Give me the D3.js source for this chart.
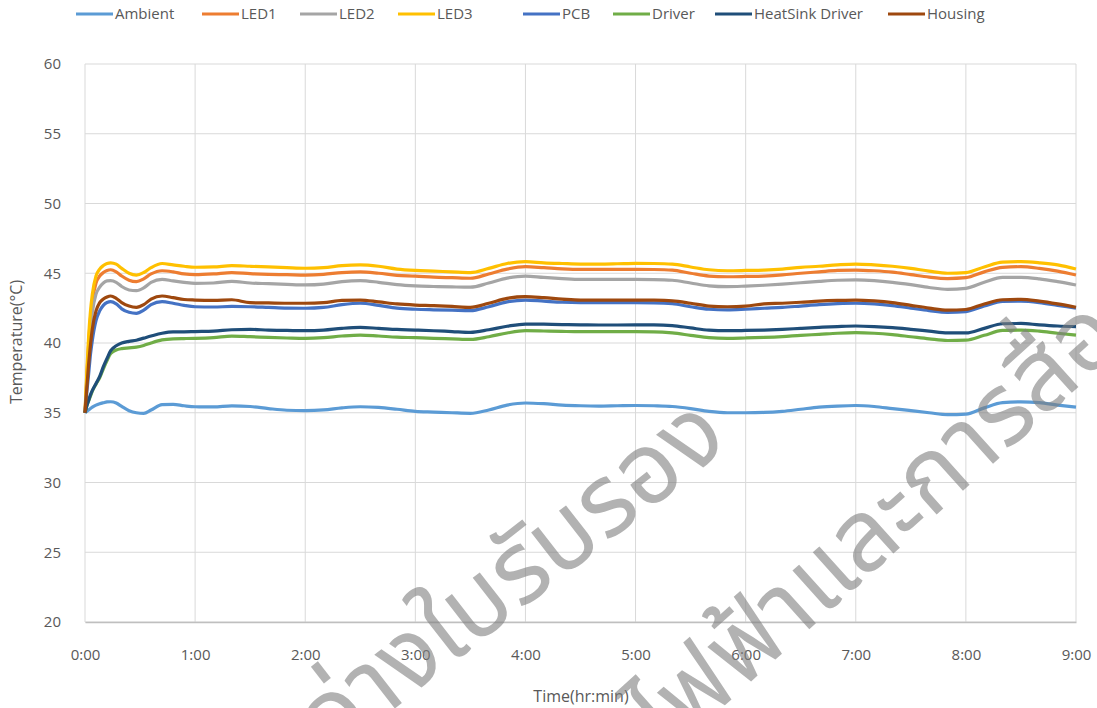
<!DOCTYPE html>
<html>
<head>
<meta charset="utf-8">
<script src="https://cdn.jsdelivr.net/npm/d3@7"></script>
<style>
  body { margin: 0; background: #fff; }
  text { font-family: "Open Sans", "Noto Sans", sans-serif; fill: #595959; }
  .grid line { stroke: #d9d9d9; stroke-width: 1; }
  .tick text { font-size: 15px; }
  .watermark { font-family: "Noto Sans Thai", "Loma", "Garuda", "Noto Sans", sans-serif; fill: #7f7f7f; opacity: 0.6; font-size: 100px; }
</style>
</head>
<body>
<div id="chart"></div>
<script>
// time in minutes
const minutes = [0,1,2,3,4,6,8,10,12,14,17,20,24,28,32,36,42,48,54,60,70,80,90,100,110,120,130,140,150,160,170,180,190,200,210,220,230,240,250,260,270,280,290,300,310,320,330,340,350,360,370,380,390,400,410,420,430,440,450,460,470,480,490,500,510,520,530,540];

const ambient = [35,35.1,35.2,35.3,35.4,35.55,35.65,35.72,35.78,35.79,35.7,35.45,35.15,35.0,34.96,35.2,35.58,35.6,35.5,35.43,35.42,35.5,35.45,35.3,35.18,35.15,35.2,35.35,35.43,35.38,35.25,35.1,35.05,35.0,34.96,35.2,35.55,35.7,35.65,35.55,35.5,35.48,35.5,35.52,35.5,35.45,35.3,35.1,35.0,35.0,35.02,35.1,35.25,35.4,35.48,35.52,35.45,35.3,35.15,35.0,34.86,34.9,35.35,35.72,35.78,35.72,35.55,35.4];
const led1 = [35,37.5,40.0,41.8,43.0,44.3,44.8,45.05,45.2,45.25,45.1,44.8,44.5,44.4,44.6,44.95,45.18,45.1,44.95,44.9,44.95,45.05,44.97,44.92,44.9,44.87,44.92,45.05,45.1,45.0,44.85,44.8,44.72,44.68,44.64,44.95,45.3,45.47,45.4,45.32,45.28,45.28,45.28,45.28,45.27,45.22,45.0,44.8,44.75,44.77,44.8,44.88,45.0,45.1,45.2,45.23,45.18,45.08,44.9,44.72,44.62,44.68,45.1,45.42,45.47,45.35,45.15,44.87];
const led2 = [35,37.2,39.5,41.0,42.2,43.5,44.0,44.3,44.45,44.47,44.35,44.05,43.8,43.75,43.95,44.35,44.56,44.45,44.35,44.28,44.3,44.42,44.3,44.25,44.2,44.16,44.22,44.4,44.47,44.35,44.18,44.09,44.05,44.02,44.0,44.3,44.65,44.8,44.7,44.62,44.56,44.56,44.56,44.56,44.55,44.5,44.3,44.1,44.04,44.08,44.14,44.22,44.32,44.42,44.5,44.52,44.47,44.35,44.18,43.98,43.85,43.92,44.35,44.7,44.71,44.6,44.4,44.16];
const led3 = [35,38.0,40.5,42.3,43.5,44.8,45.3,45.55,45.7,45.75,45.65,45.35,45.0,44.87,45.05,45.4,45.7,45.6,45.5,45.43,45.45,45.55,45.5,45.45,45.4,45.36,45.4,45.55,45.6,45.5,45.3,45.2,45.15,45.1,45.05,45.35,45.7,45.83,45.75,45.7,45.66,45.66,45.68,45.71,45.7,45.65,45.45,45.25,45.18,45.2,45.23,45.3,45.42,45.5,45.6,45.66,45.6,45.5,45.35,45.15,45.0,45.05,45.45,45.8,45.83,45.75,45.6,45.3];
const pcb = [35,36.5,37.8,39.2,40.2,41.6,42.3,42.7,42.9,42.96,42.8,42.45,42.2,42.13,42.35,42.75,42.96,42.85,42.7,42.6,42.58,42.62,42.6,42.55,42.5,42.49,42.55,42.75,42.85,42.7,42.5,42.42,42.38,42.35,42.32,42.6,42.95,43.08,43.0,42.92,42.89,42.89,42.89,42.89,42.88,42.82,42.6,42.42,42.37,42.42,42.49,42.55,42.65,42.75,42.82,42.85,42.8,42.68,42.5,42.32,42.2,42.25,42.65,42.98,43.0,42.9,42.7,42.5];
const driver = [35,35.5,35.85,36.2,36.55,37.05,37.5,38.15,38.75,39.25,39.5,39.6,39.65,39.7,39.82,40.0,40.22,40.3,40.32,40.33,40.38,40.5,40.45,40.4,40.36,40.33,40.38,40.5,40.57,40.5,40.42,40.38,40.33,40.3,40.26,40.45,40.72,40.88,40.86,40.83,40.81,40.81,40.81,40.81,40.8,40.72,40.55,40.38,40.33,40.36,40.4,40.46,40.55,40.62,40.7,40.74,40.7,40.6,40.45,40.3,40.18,40.2,40.55,40.9,40.93,40.85,40.7,40.57];
const heatsinkDriver = [35,35.5,35.9,36.3,36.6,37.1,37.6,38.3,38.9,39.45,39.8,40.0,40.12,40.2,40.35,40.5,40.7,40.8,40.8,40.82,40.85,40.95,40.98,40.92,40.9,40.88,40.92,41.05,41.12,41.05,40.97,40.93,40.88,40.82,40.76,40.95,41.2,41.36,41.35,41.32,41.3,41.29,41.29,41.3,41.3,41.25,41.08,40.92,40.88,40.9,40.93,40.98,41.05,41.12,41.18,41.22,41.18,41.1,40.98,40.85,40.72,40.72,41.05,41.38,41.4,41.3,41.22,41.17];
const housing = [35,36.8,38.5,39.9,41.0,42.3,42.9,43.15,43.3,43.37,43.2,42.9,42.65,42.56,42.75,43.15,43.37,43.25,43.12,43.08,43.05,43.1,42.89,42.87,42.85,42.85,42.9,43.05,43.08,42.95,42.8,42.72,42.68,42.62,42.56,42.85,43.2,43.32,43.25,43.15,43.08,43.08,43.08,43.08,43.07,43.02,42.85,42.65,42.6,42.65,42.8,42.85,42.92,43.0,43.05,43.08,43.02,42.9,42.7,42.5,42.35,42.4,42.8,43.1,43.13,43.0,42.8,42.56];

const seriesNames = ["Ambient","LED1","LED2","LED3","PCB","Driver","HeatSink Driver","Housing"];
const seriesValues = [ambient, led1, led2, led3, pcb, driver, heatsinkDriver, housing];
const colors = ["#5B9BD5","#ED7D31","#A5A5A5","#FFC000","#4472C4","#70AD47","#1F4E79","#9E480E"];

const xTicks = [0,60,120,180,240,300,360,420,480,540];
const xTickLabels = ["0:00","1:00","2:00","3:00","4:00","5:00","6:00","7:00","8:00","9:00"];
const yTicks = [20,25,30,35,40,45,50,55,60];

const W = 1097, H = 708;
const margin = {top: 64, right: 21, bottom: 86, left: 85};
const width = W - margin.left - margin.right;
const height = H - margin.top - margin.bottom;

const svg = d3.select("#chart")
  .append("svg")
    .attr("width", W)
    .attr("height", H);

const g = svg.append("g")
  .attr("transform", "translate(" + margin.left + "," + margin.top + ")");

const xScale = d3.scaleLinear().domain([0,540]).range([0,width]);
const yScale = d3.scaleLinear().domain([20,60]).range([height,0]);

// grid
g.append("g").attr("class","grid")
  .selectAll("line").data(yTicks).enter().append("line")
    .attr("x1",0).attr("x2",width)
    .attr("y1",d => yScale(d)).attr("y2",d => yScale(d));
g.append("g").attr("class","grid")
  .selectAll("line").data(xTicks).enter().append("line")
    .attr("y1",0).attr("y2",height)
    .attr("x1",d => xScale(d)).attr("x2",d => xScale(d));

// axes
const xAxis = g.append("g")
  .attr("transform","translate(0," + height + ")")
  .call(d3.axisBottom(xScale).tickValues(xTicks).tickFormat((d,i) => xTickLabels[i]).tickSize(0).tickPadding(27));
xAxis.select(".domain").attr("stroke","#bfbfbf").attr("stroke-width",1.3);

const yAxis = g.append("g")
  .call(d3.axisLeft(yScale).tickValues(yTicks).tickSize(0).tickPadding(24));
yAxis.select(".domain").remove();
g.selectAll(".tick text").style("fill","#595959").style("font-size","15px");

// series lines
const line = d3.line()
  .x((d,i) => xScale(minutes[i]))
  .y(d => yScale(d))
  .curve(d3.curveMonotoneX);

g.append("g")
  .selectAll("path")
  .data(seriesValues)
  .enter()
  .append("path")
    .attr("fill","none")
    .attr("stroke",(d,i) => colors[i])
    .attr("stroke-width",3.2)
    .attr("stroke-linejoin","round")
    .attr("d", line);

// axis titles
svg.append("text")
  .attr("x", 581).attr("y", 702)
  .attr("text-anchor","middle")
  .style("font-size","16px")
  .text("Time(hr:min)");

svg.append("text")
  .attr("transform","translate(22,342) rotate(-90)")
  .attr("text-anchor","middle")
  .style("font-size","16px")
  .text("Temperature(°C)");

// legend
const legX = [76,202,300,398,523,613,715,888];
const legend = svg.selectAll(".legend")
  .data(seriesNames)
  .enter().append("g")
    .attr("class","legend")
    .attr("transform",(d,i) => "translate(" + legX[i] + ",14)");
legend.append("line")
  .attr("x1",0).attr("x2",37).attr("y1",0).attr("y2",0)
  .attr("stroke",(d,i) => colors[i]).attr("stroke-width",3);
legend.append("text")
  .attr("x",39).attr("y",5)
  .style("font-size","15px")
  .text(d => d);

// watermark, clipped by the picture edge like the reference
const wm = svg.append("g").attr("class","wm");
wm.append("text").attr("class","watermark")
  .attr("transform","translate(732,445) rotate(-38)")
  .attr("text-anchor","end")
  .text("ระหว่างใบรับรอง");
wm.append("text").attr("class","watermark")
  .attr("transform","translate(895,552) rotate(-42)")
  .attr("text-anchor","middle")
  .text("ทางไฟฟ้าและการสื่อสาร");
</script>
</body>
</html>
